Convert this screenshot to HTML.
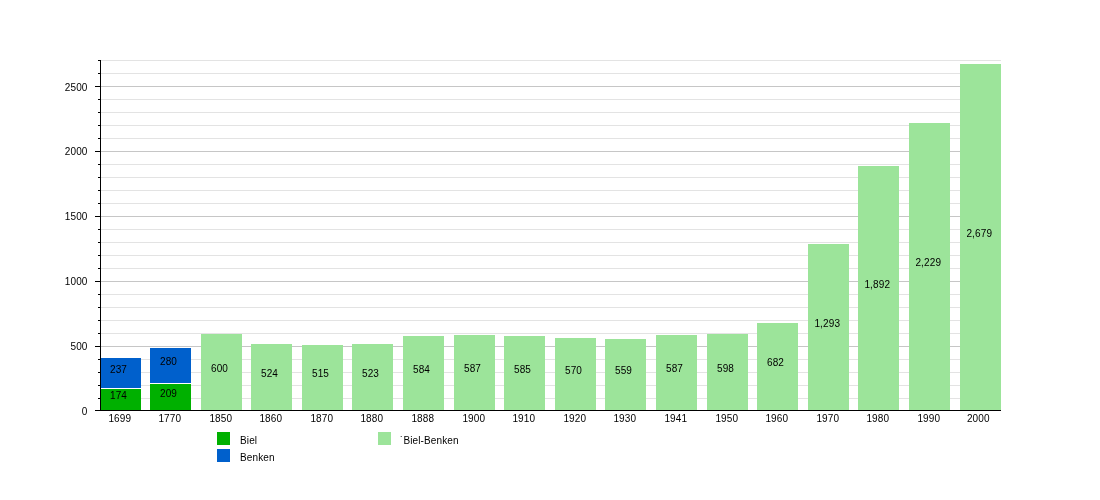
<!DOCTYPE html>
<html><head><meta charset="utf-8"><style>
html,body{margin:0;padding:0;background:#fff;width:1100px;height:500px;overflow:hidden}
svg{display:block}
text{font-family:"Liberation Sans",sans-serif;font-size:10px;fill:#000;letter-spacing:0.12px}
</style></head><body>
<svg width="1100" height="500" viewBox="0 0 1100 500">
<g shape-rendering="crispEdges">
<rect x="101" y="398" width="900" height="1" fill="#e3e3e3"/>
<rect x="101" y="385" width="900" height="1" fill="#e3e3e3"/>
<rect x="101" y="372" width="900" height="1" fill="#e3e3e3"/>
<rect x="101" y="359" width="900" height="1" fill="#e3e3e3"/>
<rect x="101" y="346" width="900" height="1" fill="#c6c6c6"/>
<rect x="101" y="333" width="900" height="1" fill="#e3e3e3"/>
<rect x="101" y="320" width="900" height="1" fill="#e3e3e3"/>
<rect x="101" y="307" width="900" height="1" fill="#e3e3e3"/>
<rect x="101" y="294" width="900" height="1" fill="#e3e3e3"/>
<rect x="101" y="281" width="900" height="1" fill="#c6c6c6"/>
<rect x="101" y="268" width="900" height="1" fill="#e3e3e3"/>
<rect x="101" y="255" width="900" height="1" fill="#e3e3e3"/>
<rect x="101" y="242" width="900" height="1" fill="#e3e3e3"/>
<rect x="101" y="229" width="900" height="1" fill="#e3e3e3"/>
<rect x="101" y="216" width="900" height="1" fill="#c6c6c6"/>
<rect x="101" y="203" width="900" height="1" fill="#e3e3e3"/>
<rect x="101" y="190" width="900" height="1" fill="#e3e3e3"/>
<rect x="101" y="177" width="900" height="1" fill="#e3e3e3"/>
<rect x="101" y="164" width="900" height="1" fill="#e3e3e3"/>
<rect x="101" y="151" width="900" height="1" fill="#c6c6c6"/>
<rect x="101" y="138" width="900" height="1" fill="#e3e3e3"/>
<rect x="101" y="125" width="900" height="1" fill="#e3e3e3"/>
<rect x="101" y="112" width="900" height="1" fill="#e3e3e3"/>
<rect x="101" y="99" width="900" height="1" fill="#e3e3e3"/>
<rect x="101" y="86" width="900" height="1" fill="#c6c6c6"/>
<rect x="101" y="73" width="900" height="1" fill="#e3e3e3"/>
<rect x="101" y="60" width="900" height="1" fill="#e3e3e3"/>
<rect x="100" y="389" width="41" height="21" fill="#00b000"/>
<rect x="100" y="358" width="41" height="30" fill="#0060cc"/>
<rect x="150" y="384" width="41" height="26" fill="#00b000"/>
<rect x="150" y="348" width="41" height="35" fill="#0060cc"/>
<rect x="201" y="334" width="41" height="76" fill="#9ce49a"/>
<rect x="251" y="344" width="41" height="66" fill="#9ce49a"/>
<rect x="302" y="345" width="41" height="65" fill="#9ce49a"/>
<rect x="352" y="344" width="41" height="66" fill="#9ce49a"/>
<rect x="403" y="336" width="41" height="74" fill="#9ce49a"/>
<rect x="454" y="335" width="41" height="75" fill="#9ce49a"/>
<rect x="504" y="336" width="41" height="74" fill="#9ce49a"/>
<rect x="555" y="338" width="41" height="72" fill="#9ce49a"/>
<rect x="605" y="339" width="41" height="71" fill="#9ce49a"/>
<rect x="656" y="335" width="41" height="75" fill="#9ce49a"/>
<rect x="707" y="334" width="41" height="76" fill="#9ce49a"/>
<rect x="757" y="323" width="41" height="87" fill="#9ce49a"/>
<rect x="808" y="244" width="41" height="166" fill="#9ce49a"/>
<rect x="858" y="166" width="41" height="244" fill="#9ce49a"/>
<rect x="909" y="123" width="41" height="287" fill="#9ce49a"/>
<rect x="960" y="64" width="41" height="346" fill="#9ce49a"/>
<rect x="100" y="60" width="1" height="351" fill="#000"/>
<rect x="95" y="410" width="906" height="1" fill="#000"/>
<rect x="95" y="410" width="5" height="1" fill="#000"/>
<rect x="98" y="398" width="2" height="1" fill="#000"/>
<rect x="98" y="385" width="2" height="1" fill="#000"/>
<rect x="98" y="372" width="2" height="1" fill="#000"/>
<rect x="98" y="359" width="2" height="1" fill="#000"/>
<rect x="95" y="346" width="5" height="1" fill="#000"/>
<rect x="98" y="333" width="2" height="1" fill="#000"/>
<rect x="98" y="320" width="2" height="1" fill="#000"/>
<rect x="98" y="307" width="2" height="1" fill="#000"/>
<rect x="98" y="294" width="2" height="1" fill="#000"/>
<rect x="95" y="281" width="5" height="1" fill="#000"/>
<rect x="98" y="268" width="2" height="1" fill="#000"/>
<rect x="98" y="255" width="2" height="1" fill="#000"/>
<rect x="98" y="242" width="2" height="1" fill="#000"/>
<rect x="98" y="229" width="2" height="1" fill="#000"/>
<rect x="95" y="216" width="5" height="1" fill="#000"/>
<rect x="98" y="203" width="2" height="1" fill="#000"/>
<rect x="98" y="190" width="2" height="1" fill="#000"/>
<rect x="98" y="177" width="2" height="1" fill="#000"/>
<rect x="98" y="164" width="2" height="1" fill="#000"/>
<rect x="95" y="151" width="5" height="1" fill="#000"/>
<rect x="98" y="138" width="2" height="1" fill="#000"/>
<rect x="98" y="125" width="2" height="1" fill="#000"/>
<rect x="98" y="112" width="2" height="1" fill="#000"/>
<rect x="98" y="99" width="2" height="1" fill="#000"/>
<rect x="95" y="86" width="5" height="1" fill="#000"/>
<rect x="98" y="73" width="2" height="1" fill="#000"/>
<rect x="98" y="60" width="2" height="1" fill="#000"/>
<rect x="217" y="432" width="13" height="13" fill="#00b000"/>
<rect x="217" y="449" width="13" height="13" fill="#0060cc"/>
<rect x="378" y="432" width="13" height="13" fill="#9ce49a"/>
</g>
<g style="will-change:transform">
<text x="87.5" y="415" text-anchor="end">0</text>
<text x="87.5" y="350" text-anchor="end">500</text>
<text x="87.5" y="285" text-anchor="end">1000</text>
<text x="87.5" y="220" text-anchor="end">1500</text>
<text x="87.5" y="155" text-anchor="end">2000</text>
<text x="87.5" y="91" text-anchor="end">2500</text>
<text x="119.8" y="422" text-anchor="middle">1699</text>
<text x="169.8" y="422" text-anchor="middle">1770</text>
<text x="220.8" y="422" text-anchor="middle">1850</text>
<text x="270.8" y="422" text-anchor="middle">1860</text>
<text x="321.8" y="422" text-anchor="middle">1870</text>
<text x="371.8" y="422" text-anchor="middle">1880</text>
<text x="422.8" y="422" text-anchor="middle">1888</text>
<text x="473.8" y="422" text-anchor="middle">1900</text>
<text x="523.8" y="422" text-anchor="middle">1910</text>
<text x="574.8" y="422" text-anchor="middle">1920</text>
<text x="624.8" y="422" text-anchor="middle">1930</text>
<text x="675.8" y="422" text-anchor="middle">1941</text>
<text x="726.8" y="422" text-anchor="middle">1950</text>
<text x="776.8" y="422" text-anchor="middle">1960</text>
<text x="827.8" y="422" text-anchor="middle">1970</text>
<text x="877.8" y="422" text-anchor="middle">1980</text>
<text x="928.8" y="422" text-anchor="middle">1990</text>
<text x="978.3" y="422" text-anchor="middle">2000</text>
<text x="118.5" y="399.00" text-anchor="middle">174</text>
<text x="118.5" y="373.00" text-anchor="middle">237</text>
<text x="168.5" y="397.00" text-anchor="middle">209</text>
<text x="168.5" y="365.00" text-anchor="middle">280</text>
<text x="219.5" y="372.00" text-anchor="middle">600</text>
<text x="269.5" y="377.00" text-anchor="middle">524</text>
<text x="320.5" y="377.00" text-anchor="middle">515</text>
<text x="370.5" y="377.00" text-anchor="middle">523</text>
<text x="421.5" y="373.00" text-anchor="middle">584</text>
<text x="472.5" y="372.00" text-anchor="middle">587</text>
<text x="522.5" y="373.00" text-anchor="middle">585</text>
<text x="573.5" y="374.00" text-anchor="middle">570</text>
<text x="623.5" y="374.00" text-anchor="middle">559</text>
<text x="674.5" y="372.00" text-anchor="middle">587</text>
<text x="725.5" y="372.00" text-anchor="middle">598</text>
<text x="775.5" y="366.00" text-anchor="middle">682</text>
<text x="827.25" y="327.00" text-anchor="middle">1,293</text>
<text x="877.25" y="288.00" text-anchor="middle">1,892</text>
<text x="928.25" y="266.00" text-anchor="middle">2,229</text>
<text x="979.25" y="237.00" text-anchor="middle">2,679</text>
<text x="240" y="444">Biel</text>
<text x="240" y="461">Benken</text>
<text x="400" y="444">˙Biel-Benken</text>
</g>
</svg>
</body></html>
